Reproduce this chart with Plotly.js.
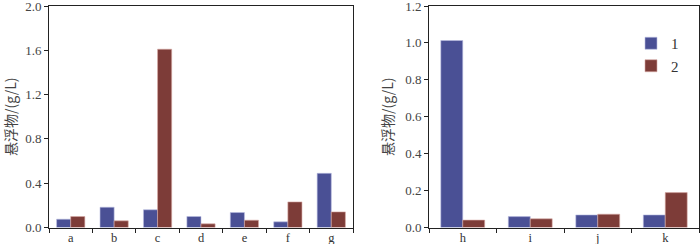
<!DOCTYPE html>
<html>
<head>
<meta charset="utf-8">
<script src="https://cdn.plot.ly/plotly-3.0.1.min.js"></script>
<style>html,body{margin:0;padding:0;background:#fff;}#chart{width:700px;height:244px;}</style>
</head>
<body>
<div id="chart"></div>
<script>
// Left panel
const catsLeft = ['a', 'b', 'c', 'd', 'e', 'f', 'g'];
const series1Left = [0.075, 0.183, 0.16, 0.099, 0.135, 0.051, 0.489];
const series2Left = [0.099, 0.06, 1.61, 0.033, 0.066, 0.231, 0.141];
// Right panel
const catsRight = ['h', 'i', 'j', 'k'];
const series1Right = [1.013, 0.059, 0.068, 0.068];
const series2Right = [0.04, 0.047, 0.072, 0.189];
const seriesNames = ['1', '2'];
const yTitle = '悬浮物/(g/L)';
const leftTicks = [0, 0.4, 0.8, 1.2, 1.6, 2.0];
const rightTicks = [0, 0.2, 0.4, 0.6, 0.8, 1.0, 1.2];

const c1 = '#4a5095', c2 = '#7d3c38';
const line1 = {color: '#b9bce0', width: 0.6};
const line2 = {color: '#d9a9a4', width: 0.6};

const traces = [
  {type: 'bar', x: catsLeft, y: series1Left, name: seriesNames[0], marker: {color: c1, line: line1}, xaxis: 'x', yaxis: 'y', showlegend: false},
  {type: 'bar', x: catsLeft, y: series2Left, name: seriesNames[1], marker: {color: c2, line: line2}, xaxis: 'x', yaxis: 'y', showlegend: false},
  {type: 'bar', x: catsRight, y: series1Right, name: seriesNames[0], marker: {color: c1, line: line1}, xaxis: 'x2', yaxis: 'y2'},
  {type: 'bar', x: catsRight, y: series2Right, name: seriesNames[1], marker: {color: c2, line: line2}, xaxis: 'x2', yaxis: 'y2'}
];

const fontFam = 'Liberation Serif, Times New Roman, serif';
const titleFam = 'Noto Sans CJK SC, Liberation Serif, serif';
const axColor = '#222';

function xax(domain, anchor) {
  return {
    domain: domain, anchor: anchor, showline: true, mirror: true, linecolor: axColor, linewidth: 1,
    ticks: 'outside', tickson: 'boundaries', ticklen: 4, tickcolor: axColor, tickwidth: 1,
    showgrid: false, zeroline: false, fixedrange: true, ticklabelstandoff: -2,
    tickfont: {family: fontFam, size: 12.5, color: '#333'}
  };
}
function yax(domain, anchor, range, ticks) {
  return {
    domain: domain, anchor: anchor, range: range, showline: true, mirror: true, linecolor: axColor, linewidth: 1,
    ticks: 'outside', ticklen: 4, tickcolor: axColor, tickwidth: 1, tickvals: ticks, tickformat: '.1f',
    showgrid: false, zeroline: false, fixedrange: true, ticklabeloverflow: 'allow',
    tickfont: {family: fontFam, size: 13, color: '#444'},
    title: {text: yTitle, font: {family: titleFam, size: 14, color: '#444'}, standoff: 8}
  };
}

const yd = [(244 - 227.5) / 244, (244 - 6) / 244];
const layout = {
  width: 700, height: 244,
  margin: {l: 0, r: 0, t: 0, b: 0},
  paper_bgcolor: '#fff', plot_bgcolor: '#fff',
  barmode: 'group', bargap: 0.35, bargroupgap: 0,
  xaxis: xax([49 / 700, 353 / 700], 'y'),
  yaxis: yax(yd, 'x', [0, 2.0], leftTicks),
  xaxis2: xax([429 / 700, 699 / 700], 'y2'),
  yaxis2: yax(yd, 'x2', [0, 1.2], rightTicks),
  legend: {x: 631 / 700, y: (244 - 27) / 244, xanchor: 'left', yanchor: 'top', bgcolor: 'rgba(0,0,0,0)',
           font: {family: fontFam, size: 15, color: '#333'}, tracegroupgap: 0, itemwidth: 30},
  showlegend: true
};

Plotly.newPlot('chart', traces, layout, {displayModeBar: false, staticPlot: true});
</script>
</body>
</html>
